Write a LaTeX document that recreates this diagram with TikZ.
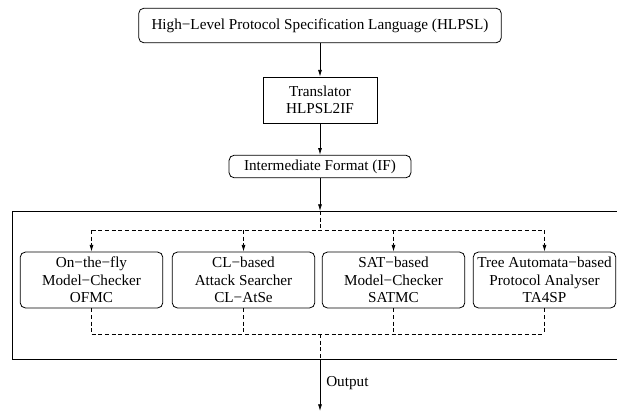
\documentclass[tikz,border=0pt]{standalone}
\usepackage{fontspec}
\setmainfont{Liberation Serif}
\usetikzlibrary{arrows.meta}

\tikzset{
  box/.style={draw, line width=0.6pt, align=center, inner sep=1pt},
  rbox/.style={box, rounded corners=4pt},
  toolbox/.style={rbox, minimum width=107pt, minimum height=42pt},
  arr/.style={line width=0.6pt, -{Latex[length=5pt,width=3pt]}},
  dsh/.style={line width=0.6pt, dash pattern=on 3pt off 2pt},
}

\begin{document}
\begin{tikzpicture}[x=0.75pt, y=-0.75pt, font=\fontsize{11.4}{13}\selectfont]
\clip (0,0) rectangle (617,412);
\useasboundingbox (0,0) rectangle (617,412);

% specification language, translator and intermediate format
\node[rbox, minimum width=272pt, minimum height=26pt] (hlpsl) at (320,25.5)
  {High−Level Protocol Specification Language (HLPSL)};
\node[box, minimum width=85.5pt, minimum height=34.5pt] (trans) at (320,100)
  {Translator\\HLPSL2IF};
\node[rbox, minimum width=136.5pt, minimum height=17pt] (ifn) at (320,166.5)
  {Intermediate Format (IF)};

% frame holding the back-ends (open on the right)
\draw[line width=0.6pt] (625,211) -- (12,211) -- (12,359) -- (625,359);

% the four back-ends
\node[toolbox] (t1) at (91.5,280) {On−the−fly\\Model−Checker\\OFMC};
\node[toolbox] (t2) at (243.5,280) {CL−based\\Attack Searcher\\CL−AtSe};
\node[toolbox] (t3) at (393.5,280) {SAT−based\\Model−Checker\\SATMC};
\node[toolbox] (t4) at (544.5,280) {Tree Automata−based\\Protocol Analyser\\TA4SP};

% helper points
\coordinate (fin) at (320,211);
\coordinate (dtop) at (320,230);
\coordinate (dbot) at (320,334);
\coordinate (fout) at (320,359);
\coordinate (out) at (320,411);

% main flow
\draw[arr] (hlpsl) -- (trans);
\draw[arr] (trans) -- (ifn);
\draw[arr] (ifn) -- (fin);

% dispatch to the back-ends
\draw[dsh] (fin) -- (dtop);
\draw[dsh] (t1 |- dtop) -- (t4 |- dtop);
\foreach \t in {t1,t2,t3,t4}{
  \draw[dsh, arr] (\t |- dtop) -- (\t);
  \draw[dsh] (\t) -- (\t |- dbot);
}
\draw[dsh] (t1 |- dbot) -- (t4 |- dbot);
\draw[dsh] (dbot) -- (fout);

% result
\draw[arr] (fout) -- (out);
\node[anchor=west, inner sep=0pt] (outlbl) at (326,383) {Output};
\end{tikzpicture}
\end{document}
